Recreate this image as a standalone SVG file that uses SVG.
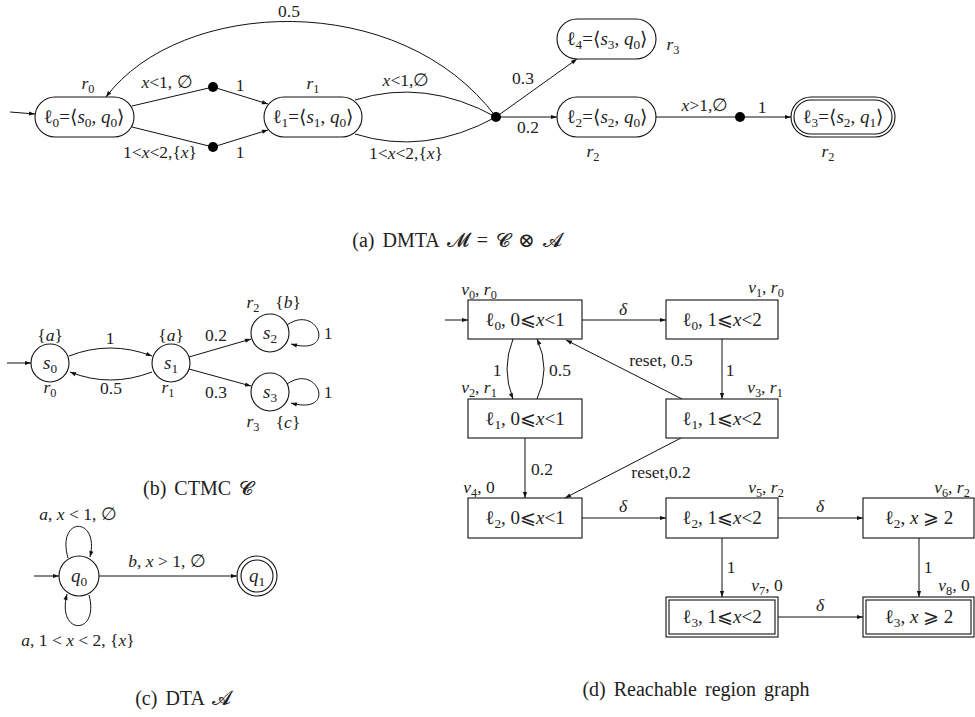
<svg xmlns="http://www.w3.org/2000/svg" width="975" height="717" viewBox="0 0 975 717">
<style>
.t{font-family:"Liberation Serif","DejaVu Serif",serif;fill:#222;text-anchor:middle}
.n{font-size:19px}
.l{font-size:17.5px}
.c{font-size:20px;word-spacing:3px}
.i{font-style:italic}
.sb{font-size:70%;baseline-shift:-4px}
.e{fill:none;stroke:#111;stroke-width:1}
.ea{fill:none;stroke:#111;stroke-width:1;marker-end:url(#ah)}
.nd{fill:#fff;stroke:#111;stroke-width:1.1}
.dot{fill:#000}
</style>
<defs>
<marker id="ah" viewBox="0 0 10 10" refX="10" refY="5" markerWidth="7" markerHeight="6" orient="auto" markerUnits="userSpaceOnUse">
<path d="M0,1.5 L10,5 L0,8.5 z" fill="#111"/>
</marker>
</defs>

<!-- ===== (a) DMTA ===== -->
<g id="connectors-a">
<path class="ea" d="M10,112 L35,114"/>
<path class="e" d="M132,106 L213,87"/>
<path class="ea" d="M213,87 L268,104"/>
<path class="e" d="M132,127 L213,147"/>
<path class="ea" d="M213,147 L268,130"/>
<path class="e" d="M355,100 Q425,78 496,117"/>
<path class="e" d="M355,134 Q425,156 496,117"/>
<path class="ea" d="M496,117 C400,-12 180,-2 106,97"/>
<path class="ea" d="M496,117 L577,59"/>
<path class="ea" d="M496,117 L557,117"/>
<path class="e" d="M656,117 L740,117"/>
<path class="ea" d="M740,117 L791,117"/>
</g>
<g id="dots-a">
<circle class="dot" cx="213" cy="87" r="5"/>
<circle class="dot" cx="213" cy="147" r="5"/>
<circle class="dot" cx="496" cy="117" r="5"/>
<circle class="dot" cx="740" cy="117" r="5"/>
</g>
<g id="a-l0">
<rect class="nd" x="35" y="97" width="99" height="40" rx="20"/>
<text x="84" y="123" class="t n">ℓ<tspan class="sb">0</tspan>=⟨<tspan class="i">s</tspan><tspan class="sb">0</tspan>, <tspan class="i">q</tspan><tspan class="sb">0</tspan>⟩</text>
</g>
<g id="a-l1">
<rect class="nd" x="264" y="97" width="98" height="40" rx="20"/>
<text x="313" y="123" class="t n">ℓ<tspan class="sb">1</tspan>=⟨<tspan class="i">s</tspan><tspan class="sb">1</tspan>, <tspan class="i">q</tspan><tspan class="sb">0</tspan>⟩</text>
</g>
<g id="a-l4">
<rect class="nd" x="557" y="19" width="99" height="40" rx="20"/>
<text x="607" y="45" class="t n">ℓ<tspan class="sb">4</tspan>=⟨<tspan class="i">s</tspan><tspan class="sb">3</tspan>, <tspan class="i">q</tspan><tspan class="sb">0</tspan>⟩</text>
</g>
<g id="a-l2">
<rect class="nd" x="557" y="97" width="99" height="40" rx="20"/>
<text x="607" y="123" class="t n">ℓ<tspan class="sb">2</tspan>=⟨<tspan class="i">s</tspan><tspan class="sb">2</tspan>, <tspan class="i">q</tspan><tspan class="sb">0</tspan>⟩</text>
</g>
<g id="a-l3">
<rect class="nd" x="791" y="97" width="104" height="40" rx="20"/>
<rect class="nd" x="794" y="100" width="98" height="34" rx="17"/>
<text x="843" y="123" class="t n">ℓ<tspan class="sb">3</tspan>=⟨<tspan class="i">s</tspan><tspan class="sb">2</tspan>, <tspan class="i">q</tspan><tspan class="sb">1</tspan>⟩</text>
</g>
<g id="labels-a">
<text x="88" y="89" class="t l"><tspan class="i">r</tspan><tspan class="sb">0</tspan></text>
<text x="313" y="89" class="t l"><tspan class="i">r</tspan><tspan class="sb">1</tspan></text>
<text x="673" y="50" class="t l"><tspan class="i">r</tspan><tspan class="sb">3</tspan></text>
<text x="593" y="157" class="t l"><tspan class="i">r</tspan><tspan class="sb">2</tspan></text>
<text x="828" y="157" class="t l"><tspan class="i">r</tspan><tspan class="sb">2</tspan></text>
<text x="167" y="88" class="t l"><tspan class="i">x</tspan>&lt;1, ∅</text>
<text x="240" y="91" class="t l">1</text>
<text x="160" y="158" class="t l">1&lt;<tspan class="i">x</tspan>&lt;2,{<tspan class="i">x</tspan>}</text>
<text x="240" y="158" class="t l">1</text>
<text x="406" y="86" class="t l"><tspan class="i">x</tspan>&lt;1,∅</text>
<text x="406" y="159" class="t l">1&lt;<tspan class="i">x</tspan>&lt;2,{<tspan class="i">x</tspan>}</text>
<text x="289" y="17" class="t l">0.5</text>
<text x="523" y="84" class="t l">0.3</text>
<text x="528" y="133" class="t l">0.2</text>
<text x="705" y="111" class="t l"><tspan class="i">x</tspan>&gt;1,∅</text>
<text x="762" y="113" class="t l">1</text>
</g>
<text x="457" y="247" class="t c">(a)  DMTA 𝓜 = 𝓒 ⊗ 𝓐</text>

<!-- ===== (b) CTMC ===== -->
<g id="connectors-b">
<path class="ea" d="M7,363 L31,363"/>
<path class="ea" d="M69,356 Q110,340 152,356"/>
<path class="ea" d="M152,372 Q110,388 70,372"/>
<path class="ea" d="M189,357 L251,339"/>
<path class="ea" d="M189,369 L251,386"/>
<path class="ea" d="M287,325 C318,303 338,357 291,344"/>
<path class="ea" d="M287,384 C318,362 338,416 291,403"/>
</g>
<g id="b-s0"><circle class="nd" cx="50" cy="363" r="19"/><text x="50" y="369" class="t n"><tspan class="i">s</tspan><tspan class="sb">0</tspan></text></g>
<g id="b-s1"><circle class="nd" cx="171" cy="363" r="19"/><text x="171" y="369" class="t n"><tspan class="i">s</tspan><tspan class="sb">1</tspan></text></g>
<g id="b-s2"><circle class="nd" cx="270" cy="333" r="19"/><text x="270" y="339" class="t n"><tspan class="i">s</tspan><tspan class="sb">2</tspan></text></g>
<g id="b-s3"><circle class="nd" cx="270" cy="392" r="19"/><text x="270" y="398" class="t n"><tspan class="i">s</tspan><tspan class="sb">3</tspan></text></g>
<g id="labels-b">
<text x="50" y="341" class="t l">{<tspan class="i">a</tspan>}</text>
<text x="171" y="341" class="t l">{<tspan class="i">a</tspan>}</text>
<text x="50" y="393" class="t l"><tspan class="i">r</tspan><tspan class="sb">0</tspan></text>
<text x="168" y="393" class="t l"><tspan class="i">r</tspan><tspan class="sb">1</tspan></text>
<text x="110" y="344" class="t l">1</text>
<text x="111" y="394" class="t l">0.5</text>
<text x="216" y="341" class="t l">0.2</text>
<text x="216" y="398" class="t l">0.3</text>
<text x="253" y="308" class="t l"><tspan class="i">r</tspan><tspan class="sb">2</tspan></text>
<text x="288" y="308" class="t l">{<tspan class="i">b</tspan>}</text>
<text x="328" y="339" class="t l">1</text>
<text x="328" y="398" class="t l">1</text>
<text x="253" y="427" class="t l"><tspan class="i">r</tspan><tspan class="sb">3</tspan></text>
<text x="288" y="428" class="t l">{<tspan class="i">c</tspan>}</text>
</g>
<text x="198" y="495" class="t c">(b)  CTMC 𝓒</text>

<!-- ===== (c) DTA ===== -->
<g id="connectors-c">
<path class="ea" d="M34,576 L59,576"/>
<path class="ea" d="M68,558 C56,516 100,516 90,557"/>
<path class="ea" d="M89,595 C100,636 56,636 67,594"/>
<path class="ea" d="M99,576 L237,576"/>
</g>
<g id="c-q0"><circle class="nd" cx="79" cy="576" r="20"/><text x="79" y="582" class="t n"><tspan class="i">q</tspan><tspan class="sb">0</tspan></text></g>
<g id="c-q1"><circle class="nd" cx="257" cy="576" r="20"/><circle class="nd" cx="257" cy="576" r="16"/><text x="257" y="582" class="t n"><tspan class="i">q</tspan><tspan class="sb">1</tspan></text></g>
<g id="labels-c">
<text x="78" y="520" class="t l"><tspan class="i">a</tspan>, <tspan class="i">x</tspan> &lt; 1, ∅</text>
<text x="78" y="646" class="t l"><tspan class="i">a</tspan>, 1 &lt; <tspan class="i">x</tspan> &lt; 2, {<tspan class="i">x</tspan>}</text>
<text x="167" y="567" class="t l"><tspan class="i">b</tspan>, <tspan class="i">x</tspan> &gt; 1, ∅</text>
</g>
<text x="183" y="705" class="t c">(c)  DTA 𝓐</text>

<!-- ===== (d) Region graph ===== -->
<g id="connectors-d">
<path class="ea" d="M445,320 L468,320"/>
<path class="ea" d="M582,320 L666,320"/>
<path class="ea" d="M513,339 Q501,369 513,399"/>
<path class="ea" d="M537,399 Q551,369 537,339"/>
<path class="ea" d="M722,339 L722,399"/>
<path class="ea" d="M682,399 L566,340"/>
<path class="ea" d="M525,438 L525,498"/>
<path class="ea" d="M681,438 L565,498"/>
<path class="ea" d="M582,518 L666,518"/>
<path class="ea" d="M778,518 L863,518"/>
<path class="ea" d="M722,538 L722,597"/>
<path class="ea" d="M919,538 L919,597"/>
<path class="ea" d="M778,617 L863,617"/>
</g>
<g id="d-v0"><rect class="nd" x="468" y="300" width="114" height="39"/><text x="525" y="326" class="t n">ℓ<tspan class="sb">0</tspan>, 0⩽<tspan class="i">x</tspan>&lt;1</text></g>
<g id="d-v1"><rect class="nd" x="666" y="300" width="112" height="39"/><text x="722" y="326" class="t n">ℓ<tspan class="sb">0</tspan>, 1⩽<tspan class="i">x</tspan>&lt;2</text></g>
<g id="d-v2"><rect class="nd" x="468" y="399" width="114" height="39"/><text x="525" y="425" class="t n">ℓ<tspan class="sb">1</tspan>, 0⩽<tspan class="i">x</tspan>&lt;1</text></g>
<g id="d-v3"><rect class="nd" x="666" y="399" width="112" height="39"/><text x="722" y="425" class="t n">ℓ<tspan class="sb">1</tspan>, 1⩽<tspan class="i">x</tspan>&lt;2</text></g>
<g id="d-v4"><rect class="nd" x="468" y="498" width="114" height="40"/><text x="525" y="524" class="t n">ℓ<tspan class="sb">2</tspan>, 0⩽<tspan class="i">x</tspan>&lt;1</text></g>
<g id="d-v5"><rect class="nd" x="666" y="498" width="112" height="40"/><text x="722" y="524" class="t n">ℓ<tspan class="sb">2</tspan>, 1⩽<tspan class="i">x</tspan>&lt;2</text></g>
<g id="d-v6"><rect class="nd" x="863" y="498" width="111" height="40"/><text x="919" y="524" class="t n">ℓ<tspan class="sb">2</tspan>, <tspan class="i">x</tspan> ⩾ 2</text></g>
<g id="d-v7"><rect class="nd" x="666" y="597" width="112" height="40"/><rect class="nd" x="669" y="600" width="106" height="34"/><text x="722" y="623" class="t n">ℓ<tspan class="sb">3</tspan>, 1⩽<tspan class="i">x</tspan>&lt;2</text></g>
<g id="d-v8"><rect class="nd" x="863" y="597" width="111" height="40"/><rect class="nd" x="866" y="600" width="105" height="34"/><text x="919" y="623" class="t n">ℓ<tspan class="sb">3</tspan>, <tspan class="i">x</tspan> ⩾ 2</text></g>
<g id="labels-d">
<text x="479" y="295" class="t l"><tspan class="i">v</tspan><tspan class="sb">0</tspan>, <tspan class="i">r</tspan><tspan class="sb">0</tspan></text>
<text x="766" y="293" class="t l"><tspan class="i">v</tspan><tspan class="sb">1</tspan>, <tspan class="i">r</tspan><tspan class="sb">0</tspan></text>
<text x="479" y="393" class="t l"><tspan class="i">v</tspan><tspan class="sb">2</tspan>, <tspan class="i">r</tspan><tspan class="sb">1</tspan></text>
<text x="765" y="393" class="t l"><tspan class="i">v</tspan><tspan class="sb">3</tspan>, <tspan class="i">r</tspan><tspan class="sb">1</tspan></text>
<text x="479" y="493" class="t l"><tspan class="i">v</tspan><tspan class="sb">4</tspan>, 0</text>
<text x="766" y="493" class="t l"><tspan class="i">v</tspan><tspan class="sb">5</tspan>, <tspan class="i">r</tspan><tspan class="sb">2</tspan></text>
<text x="952" y="493" class="t l"><tspan class="i">v</tspan><tspan class="sb">6</tspan>, <tspan class="i">r</tspan><tspan class="sb">2</tspan></text>
<text x="767" y="591" class="t l"><tspan class="i">v</tspan><tspan class="sb">7</tspan>, 0</text>
<text x="954" y="591" class="t l"><tspan class="i">v</tspan><tspan class="sb">8</tspan>, 0</text>
<text x="623" y="315" class="t l i">δ</text>
<text x="623" y="512" class="t l i">δ</text>
<text x="820" y="512" class="t l i">δ</text>
<text x="820" y="611" class="t l i">δ</text>
<text x="497" y="376" class="t l">1</text>
<text x="560" y="376" class="t l">0.5</text>
<text x="730" y="376" class="t l">1</text>
<text x="661" y="366" class="t l">reset, 0.5</text>
<text x="542" y="475" class="t l">0.2</text>
<text x="661" y="478" class="t l">reset,0.2</text>
<text x="731" y="573" class="t l">1</text>
<text x="928" y="573" class="t l">1</text>
</g>
<text x="696" y="696" class="t c">(d)  Reachable region graph</text>
</svg>
